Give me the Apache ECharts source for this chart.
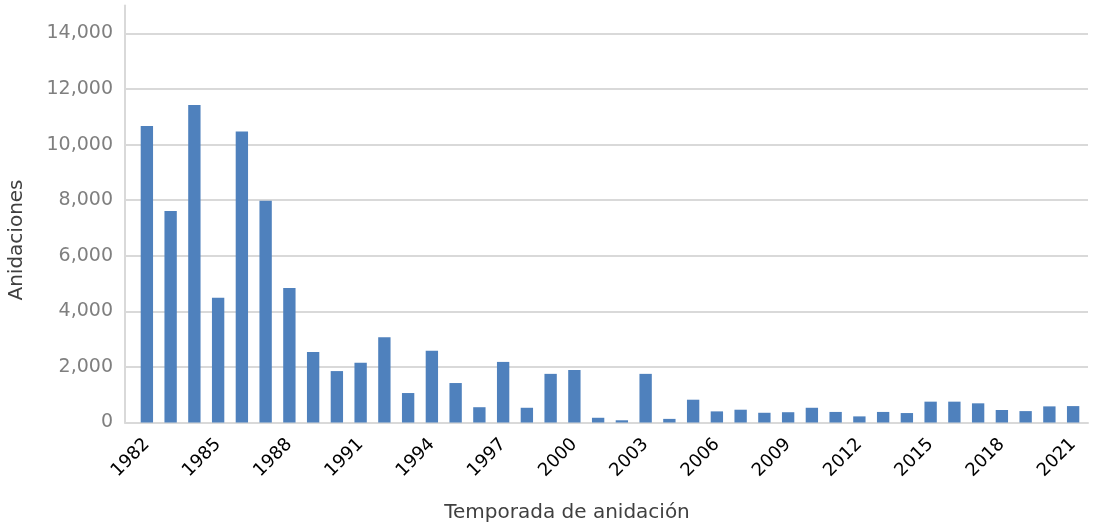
<!DOCTYPE html>
<html>
<head>
<meta charset="utf-8">
<script src="https://cdn.jsdelivr.net/npm/echarts@6/dist/echarts.min.js"></script>
<style>
  html, body { margin: 0; padding: 0; background: #fff; }
  #chart { width: 1100px; height: 526px; }
</style>
</head>
<body>
<div id="chart"></div>
<script>
const years = ['1982', '1983', '1984', '1985', '1986', '1987', '1988', '1989', '1990', '1991',
  '1992', '1993', '1994', '1995', '1996', '1997', '1998', '1999', '2000', '2001',
  '2002', '2003', '2004', '2005', '2006', '2007', '2008', '2009', '2010', '2011',
  '2012', '2013', '2014', '2015', '2016', '2017', '2018', '2019', '2020', '2021'];
const nestings = [10670, 7610, 11420, 4490, 10470, 7980, 4840, 2540, 1850, 2150,
  3070, 1060, 2580, 1420, 550, 2180, 530, 1750, 1890, 170,
  80, 1750, 130, 820, 400, 460, 350, 370, 530, 380,
  220, 380, 340, 750, 750, 690, 450, 410, 580, 590];
const yTicks = [0, 2000, 4000, 6000, 8000, 10000, 12000, 14000];

const font = 'DejaVu Sans';
const gridColor = '#d9d9d9';
const chart = echarts.init(document.getElementById('chart'));

chart.setOption({
  animation: false,
  backgroundColor: '#fff',
  textStyle: { fontFamily: font },
  grid: [
    { left: 125, right: 12, top: 5.6, bottom: 103.5 },
    { left: 135, right: 15, top: 5.6, bottom: 103.5 }
  ],
  xAxis: [
    {
      gridIndex: 0,
      type: 'value',
      min: 0,
      max: 1,
      axisLine: { show: true, lineStyle: { color: gridColor, width: 2 } },
      axisTick: { show: false },
      axisLabel: { show: false },
      splitLine: { show: false }
    },
    {
      gridIndex: 1,
      type: 'category',
      data: years,
      axisLine: { show: false },
      axisTick: { show: false },
      axisLabel: { interval: 2, rotate: 45, fontSize: 18, color: '#000', margin: 19, fontFamily: font }
    }
  ],
  yAxis: [
    {
      gridIndex: 0,
      type: 'value',
      min: 0,
      max: 15000,
      interval: 2000,
      axisLine: { show: true, lineStyle: { color: gridColor, width: 2 } },
      axisTick: { show: false },
      axisLabel: {
        showMaxLabel: false,
        fontSize: 19,
        color: '#7f7f7f',
        margin: 12,
        fontFamily: font,
        formatter: (v) => (yTicks.includes(v) ? v.toLocaleString('en-US') : '')
      },
      splitLine: { show: true, showMaxLine: false, lineStyle: { color: gridColor, width: 2 } }
    },
    { gridIndex: 1, type: 'value', min: 0, max: 15000, show: false }
  ],
  series: [
    {
      type: 'bar',
      xAxisIndex: 1,
      yAxisIndex: 1,
      data: nestings,
      barWidth: '52%',
      itemStyle: { color: '#4f81bd' }
    }
  ],
  graphic: [
    {
      type: 'text',
      x: 17,
      y: 240,
      rotation: Math.PI / 2,
      style: { text: 'Anidaciones', fontSize: 20, fontFamily: font, fill: '#404040', align: 'center', verticalAlign: 'middle' }
    },
    {
      type: 'text',
      x: 567,
      y: 513,
      style: { text: 'Temporada de anidación', fontSize: 20, fontFamily: font, fill: '#404040', align: 'center', verticalAlign: 'middle' }
    }
  ]
});
</script>
</body>
</html>
